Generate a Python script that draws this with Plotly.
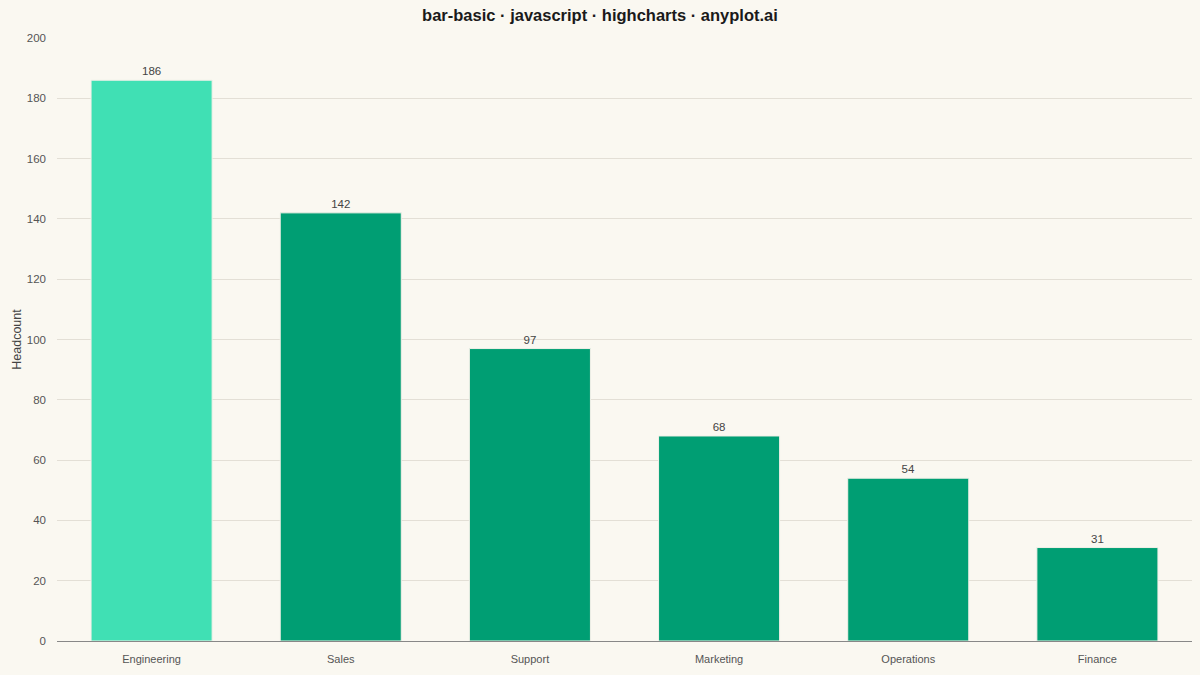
import plotly.graph_objects as go

# headcount per department
departments = ["Engineering", "Sales", "Support", "Marketing", "Operations", "Finance"]
headcount = [186, 142, 97, 68, 54, 31]
bar_colors = ["#40E0B4", "#009E73", "#009E73", "#009E73", "#009E73", "#009E73"]

BG = "#FAF8F1"

fig = go.Figure(
    go.Bar(
        x=departments,
        y=headcount,
        marker=dict(color=bar_colors, line=dict(color="#F2F0E8", width=1)),
        text=headcount,
        textposition="outside",
        cliponaxis=False,
        textfont=dict(size=11.5, color="#444444"),
        width=0.64,
        hoverinfo="x+y",
    )
)

fig.update_layout(
    width=1200,
    height=675,
    paper_bgcolor=BG,
    plot_bgcolor=BG,
    font=dict(family="Liberation Sans, Arial, sans-serif", color="#555555"),
    title=dict(
        text="<b>bar-basic · javascript · highcharts · anyplot.ai</b>",
        x=0.5,
        xanchor="center",
        y=0.978,
        yanchor="middle",
        font=dict(size=16.5, color="#1a1a1a"),
    ),
    margin=dict(l=57, r=8, t=38, b=34),
    showlegend=False,
    bargap=0.36,
)

fig.update_xaxes(
    showline=True,
    linecolor="#888888",
    linewidth=1,
    showgrid=False,
    ticks="",
    tickfont=dict(size=11, color="#555555"),
    ticklabelstandoff=8,
)
fig.update_yaxes(
    range=[0, 200],
    dtick=20,
    showgrid=True,
    gridcolor="#E3DFD6",
    gridwidth=1,
    zeroline=False,
    tickfont=dict(size=11.5, color="#555555"),
    ticklabelstandoff=10,
    title=dict(text="Headcount", font=dict(size=12.5, color="#444444"), standoff=2),
)

# drop the default page margin so the chart fills the window
fig.write_html(
    "out.html",
    config={"displayModeBar": False},
    post_script="document.body.style.margin='0';document.body.style.background='%s';" % BG,
)
